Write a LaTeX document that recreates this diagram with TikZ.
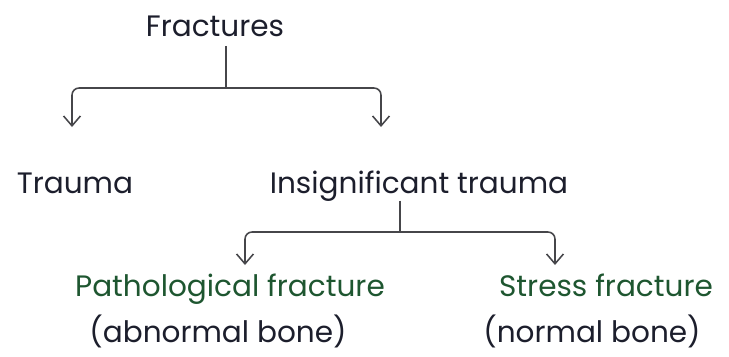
\documentclass[tikz,border=0pt]{standalone}
\usepackage{fontspec}
\setmainfont{Poppins}
\usepackage{tikz}
\usetikzlibrary{calc, positioning, arrows.meta}
\definecolor{InkColour}{RGB}{28,30,44}
\definecolor{leafgreen}{RGB}{30,86,48}
\definecolor{linegrey}{RGB}{70,70,74}

\begin{document}
\begin{tikzpicture}[x=0.025cm, y=-0.025cm, font=\fontsize{21}{24}\selectfont,
    label/.style={anchor=base, text=InkColour, inner sep=1pt},
    greenlabel/.style={label, text=leafgreen},
    link/.style={linegrey, line width=1.1pt, rounded corners=5pt,
                 -{Straight Barb[length=7pt, width=12pt]}}]
  \useasboundingbox (0,0) rectangle (729,356);

  % top level
  \node[label] (fract) at (215,36) {Fractures};
  \node[label] (trauma) at (75,193) {Trauma};
  \node[label] (insig) at (419,193) {Insignificant trauma};

  % second level
  \node[greenlabel] (patho) at (230,296) {Pathological fracture};
  \node[label] (abn) at (218,342) {(abnormal bone)};
  \node[greenlabel] (stress) at (606,296) {Stress fracture};
  \node[label] (norm) at (592,342) {(normal bone)};

  % junctions and arrow tips
  \coordinate (j1) at (226,88);
  \coordinate (t1) at (72,127);
  \coordinate (t2) at (381,127);
  \coordinate (j2) at (400,232);
  \coordinate (t3) at (245,265);
  \coordinate (t4) at (555,265);

  \draw[link, -] (fract.south -| j1) ++(0,8) -- (j1);
  \draw[link] (j1) -| (t1);
  \draw[link] (j1) -| (t2);
  \draw[link, -] (insig.south -| j2) ++(0,-2) -- (j2);
  \draw[link] (j2) -| (t3);
  \draw[link] (j2) -| (t4);
\end{tikzpicture}
\end{document}
